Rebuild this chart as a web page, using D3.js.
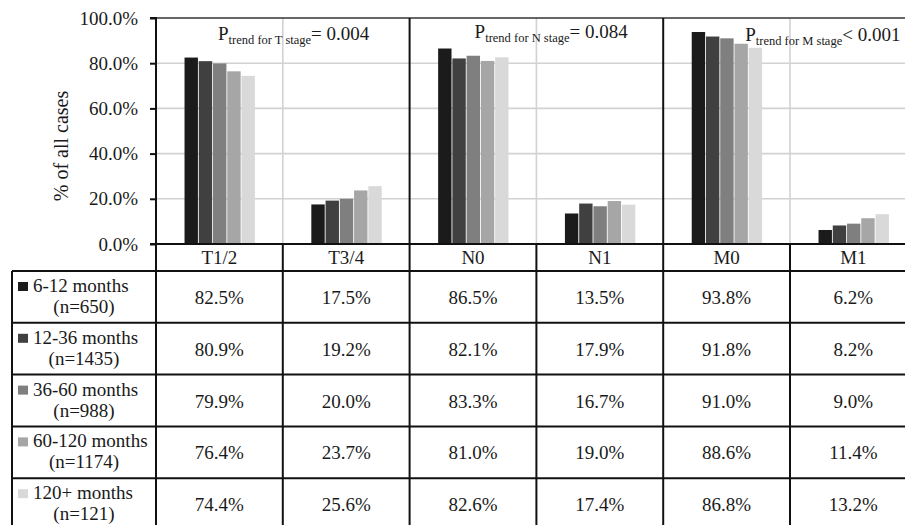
<!DOCTYPE html>
<html>
<head>
<meta charset="utf-8">
<script src="https://cdn.jsdelivr.net/npm/d3@7"></script>
<style>
  html, body { margin: 0; padding: 0; background: #fff; }
  svg, svg text { font-family: "Times New Roman", "Liberation Serif", Tinos, "DejaVu Serif", serif; }
</style>
</head>
<body>
<svg id="chart" width="905" height="525"></svg>
<script>
// Stage categories along the x axis
const categories = ["T1/2", "T3/4", "N0", "N1", "M0", "M1"];

// Follow-up groups (one bar per group inside each category)
const seriesNames = ["6-12 months", "12-36 months", "36-60 months", "60-120 months", "120+ months"];
const seriesCounts = ["(n=650)", "(n=1435)", "(n=988)", "(n=1174)", "(n=121)"];

// Percent of all cases, per group, in category order
const months6to12   = [82.5, 17.5, 86.5, 13.5, 93.8, 6.2];
const months12to36  = [80.9, 19.2, 82.1, 17.9, 91.8, 8.2];
const months36to60  = [79.9, 20.0, 83.3, 16.7, 91.0, 9.0];
const months60to120 = [76.4, 23.7, 81.0, 19.0, 88.6, 11.4];
const months120plus = [74.4, 25.6, 82.6, 17.4, 86.8, 13.2];
const seriesValues = [months6to12, months12to36, months36to60, months60to120, months120plus];

// Y axis ticks
const yTicks = [0, 20, 40, 60, 80, 100];

// Trend test annotations (one per stage pair)
const trendSubs = ["trend for T stage", "trend for N stage", "trend for M stage"];
const trendTexts = ["= 0.004", "= 0.084", "< 0.001"];

const colors = ["#1b1b1b", "#404040", "#7f7f7f", "#a6a6a6", "#d9d9d9"];
const serif = "'Times New Roman', 'Liberation Serif', Tinos, 'DejaVu Serif', serif";

const svg = d3.select("#chart").attr("font-family", serif);
const W = 905;

const plotLeft = 156, plotTop = 18, plotBottom = 244;
const colW = 126.8;
const catRowBottom = 271;
const rowH = 51.8;
const tableLeft = 12;
const tableBottom = catRowBottom + rowH * seriesNames.length;

const x = d3.scaleBand().domain(categories).range([plotLeft, plotLeft + colW * categories.length]).padding(0);
const x1 = d3.scaleBand().domain(d3.range(seriesNames.length))
  .range([colW * 0.225, colW * 0.78]).paddingInner(0.06);
const y = d3.scaleLinear().domain([0, 100]).range([plotBottom, plotTop]);

const grid = "#d2d2d2";
const ink = "#111";

// Horizontal gridlines
svg.append("g").selectAll("line").data(yTicks.filter(t => t > 0 && t < 100)).join("line")
  .attr("x1", plotLeft).attr("x2", W)
  .attr("y1", d => y(d)).attr("y2", d => y(d))
  .attr("stroke", grid).attr("stroke-width", 1.6);

// Light category separators in plot area (within each stage pair)
svg.append("g").selectAll("line").data([1, 3, 5]).join("line")
  .attr("x1", i => x(categories[i])).attr("x2", i => x(categories[i]))
  .attr("y1", plotTop).attr("y2", plotBottom)
  .attr("stroke", grid).attr("stroke-width", 1.6);

// Bars
const groups = svg.append("g").selectAll("g").data(categories).join("g")
  .attr("transform", c => `translate(${x(c)},0)`);
groups.selectAll("rect").data((c, ci) => seriesValues.map((vals, si) => ({ si, v: vals[ci] })))
  .join("rect")
  .attr("x", d => x1(d.si))
  .attr("width", x1.bandwidth())
  .attr("y", d => y(d.v))
  .attr("height", d => y(0) - y(d.v))
  .attr("fill", d => colors[d.si]);

// Top frame and heavy pair separators
svg.append("line").attr("x1", plotLeft).attr("x2", W).attr("y1", plotTop).attr("y2", plotTop)
  .attr("stroke", "#333").attr("stroke-width", 1.6);
svg.append("g").selectAll("line").data([2, 4]).join("line")
  .attr("x1", i => x(categories[i])).attr("x2", i => x(categories[i]))
  .attr("y1", plotTop).attr("y2", tableBottom)
  .attr("stroke", ink).attr("stroke-width", 2);

// Y axis
const yAxis = d3.axisLeft(y).tickValues(yTicks).tickFormat(d => d.toFixed(1) + "%").tickSize(6).tickPadding(12);
const ya = svg.append("g").attr("transform", `translate(${plotLeft},0)`).call(yAxis)
  .attr("font-family", serif);
ya.select(".domain").attr("stroke", ink).attr("stroke-width", 2).attr("d", `M-6,${plotTop}H0V${plotBottom}`);
ya.selectAll(".tick line").attr("stroke", ink).attr("stroke-width", 2);
ya.selectAll(".tick text").attr("font-size", 19).attr("fill", "#1a1a1a");

// Y axis title
svg.append("text")
  .attr("transform", `translate(68,${(plotTop + plotBottom) / 2 + 15}) rotate(-90)`)
  .attr("text-anchor", "middle")
  .attr("font-size", 20).attr("fill", "#1a1a1a")
  .text("% of all cases");

// Trend annotations
const trendOffsets = [62, 65, 82];
const trendBaselines = [40, 38, 41];
trendSubs.forEach((sub, i) => {
  const t = svg.append("text")
    .attr("x", x(categories[i * 2]) + trendOffsets[i])
    .attr("y", trendBaselines[i])
    .attr("fill", "#1a1a1a").attr("font-size", 19);
  t.append("tspan").text("P");
  t.append("tspan").attr("font-size", 12.5).attr("dy", 4).text(sub);
  t.append("tspan").attr("dy", -4).text(trendTexts[i]);
});

// Data table: category header row
svg.append("g").selectAll("text").data(categories).join("text")
  .attr("x", c => x(c) + colW / 2)
  .attr("y", 264)
  .attr("text-anchor", "middle")
  .attr("font-size", 19).attr("fill", "#1a1a1a")
  .text(c => c);

// Table grid lines
const tg = svg.append("g").attr("stroke", ink).attr("stroke-width", 2);
tg.append("line").attr("x1", plotLeft - 6).attr("x2", W).attr("y1", plotBottom).attr("y2", plotBottom);
d3.range(seriesNames.length + 1).forEach(r => {
  tg.append("line").attr("x1", tableLeft).attr("x2", W)
    .attr("y1", catRowBottom + r * rowH).attr("y2", catRowBottom + r * rowH);
});
tg.append("line").attr("x1", tableLeft).attr("x2", tableLeft).attr("y1", catRowBottom).attr("y2", tableBottom);
tg.append("line").attr("x1", plotLeft).attr("x2", plotLeft).attr("y1", plotBottom).attr("y2", tableBottom);
[1, 3, 5].forEach(i => {
  tg.append("line").attr("x1", x(categories[i])).attr("x2", x(categories[i]))
    .attr("y1", plotBottom).attr("y2", tableBottom);
});

// Row headers: legend key + group label
const rows = svg.append("g").selectAll("g").data(seriesNames).join("g")
  .attr("transform", (d, i) => `translate(0,${catRowBottom + i * rowH})`);
rows.append("rect").attr("x", 18).attr("y", 11).attr("width", 10).attr("height", 9)
  .attr("fill", (d, i) => colors[i]);
rows.append("text").attr("x", 33).attr("y", 21).attr("font-size", 19).attr("fill", "#1a1a1a")
  .text(d => d);
rows.append("text").attr("x", 84).attr("y", 42).attr("text-anchor", "middle")
  .attr("font-size", 19).attr("fill", "#1a1a1a")
  .text((d, i) => seriesCounts[i]);

// Row values
rows.selectAll("text.val").data((d, i) => seriesValues[i].map((v, ci) => ({ v, c: categories[ci] })))
  .join("text").attr("class", "val")
  .attr("x", d => x(d.c) + colW / 2)
  .attr("y", 33)
  .attr("text-anchor", "middle")
  .attr("font-size", 19).attr("fill", "#1a1a1a")
  .text(d => d.v.toFixed(1) + "%");
</script>
</body>
</html>
